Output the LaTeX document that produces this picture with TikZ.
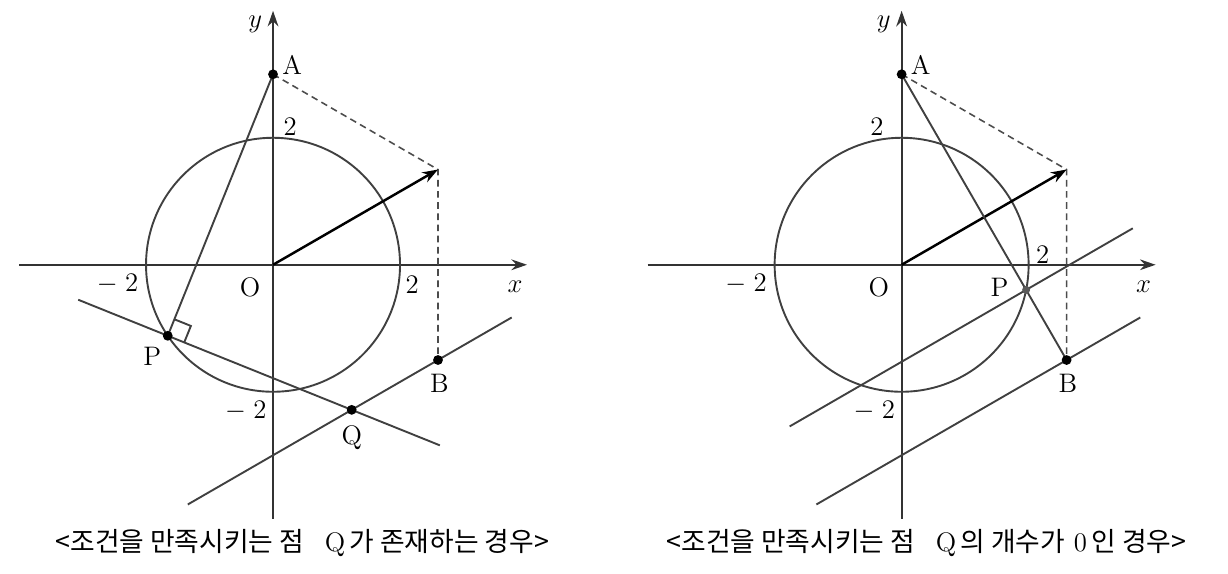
\documentclass[tikz,border=0pt]{standalone}
\usepackage{fontspec}
\newfontfamily\krfont{Noto Sans CJK KR}
\usetikzlibrary{arrows.meta,calc}
\tikzset{
	axis/.style={draw=black!80,line width=.85pt,-{Stealth[length=7pt,width=4.8pt]}},
	curve/.style={draw=black!75,line width=.85pt},
	guide/.style={draw=black!70,line width=.7pt,dash pattern=on 3pt off 2pt},
	vec/.style={draw=black,line width=1.1pt,-{Stealth[length=7pt,width=5pt]}},
	dot/.style={circle,fill=black,inner sep=0pt,minimum size=4.4pt},
	lbl/.style={font=\fontsize{12}{14}\selectfont,inner sep=0pt},
	caption/.style={font=\fontsize{12}{14}\selectfont,inner sep=0pt},
}
\begin{document}
\begin{tikzpicture}
	\useasboundingbox (-4.3,-4.87) rectangle (15.04,4.17);
	\foreach \s/\n in {0/1,9.9/2}{
		\begin{scope}[xshift=\s cm]
			\coordinate (O\n) at (0,0);
			\coordinate (A\n) at (0,3);
			\coordinate (U\n) at (30:3);
			\coordinate (B\n) at ($(U\n)+(0,-3)$);
			\coordinate (M\n) at ($(B\n)+(210:4.55)$);
			\coordinate (N\n) at ($(B\n)+(30:1.34)$);
			\coordinate (xl\n) at (-4,0);
			\coordinate (xr\n) at (4,0);
			\coordinate (yb\n) at (0,-4);
			\coordinate (yt\n) at (0,4);
			
			\draw[axis] (xl\n) -- (xr\n);
			\draw[axis] (yb\n) -- (yt\n);
			\draw[curve] (O\n) circle (2);
			\draw[curve] (M\n) -- (N\n);
			\draw[guide] (A\n) -- (U\n) -- (B\n);
			\draw[vec] (O\n) -- (U\n);
			
			\node[lbl] (ylab\n) at (-.28,3.78) {$y$};
			\node[lbl] (xlab\n) at (3.81,-.35) {$x$};
			\node[lbl] (Alab\n) at (.3,3.15) {A};
			\node[lbl] (Blab\n) at (2.62,-1.86) {B};
			\node[lbl] (Olab\n) at (-.36,-.35) {O};
			\node[lbl] (mx\n) at (-2.45,-.31) {$-\;2$};
			\node[lbl] (my\n) at (-.43,-2.3) {$-\;2$};
		\end{scope}}
	
	\coordinate (P1) at (214:2);
	\coordinate (L1) at ($(P1)!1.52cm!90:(A1)$);
	\coordinate (R1) at ($(P1)!4.62cm!-90:(A1)$);
	\coordinate (Q1) at (intersection of L1--R1 and M1--N1);
	\draw[curve] (A1) -- (P1);
	\draw[curve] (L1) -- (R1);
	\draw[curve] ($(P1)!.28cm!(A1)$) coordinate (S1) -- ($(S1)!.28cm!90:(P1)$)
		-- ($(P1)!.28cm!-90:(A1)$);
	
	\coordinate (P2) at ($(A2)!.7546!(B2)$);
	\coordinate (L2) at ($(P2)+(210:4.3)$);
	\coordinate (R2) at ($(P2)+(30:1.94)$);
	\draw[curve] (A2) -- (B2);
	\draw[curve] (L2) -- (R2);
	
	\foreach \p in {A1,B1,P1,Q1,A2,B2}
		\node[dot] (d\p) at (\p) {};
	\node[dot,fill=black!65,minimum size=3.6pt] (dP2) at (P2) {};
	
	\node[lbl] (two1) at (.27,2.17) {2};
	\node[lbl] (twox1) at (2.19,-.31) {2};
	\node[lbl] (Plab1) at (-1.9,-1.45) {P};
	\node[lbl] (Qlab1) at (1.24,-2.72) {Q};
	\node[lbl] (two2) at ($(O2)+(-.39,2.17)$) {2};
	\node[lbl] (twox2) at ($(O2)+(2.22,.16)$) {2};
	\node[lbl] (Plab2) at ($(O2)+(1.54,-.35)$) {P};
	
	\node[caption] (cap1) at (.46,-4.38)
		{{\krfont <조건을 만족시키는 점}\;\, Q\,{\krfont 가 존재하는 경우>}};
	\node[caption] (cap2) at ($(O2)+(.39,-4.38)$)
		{{\krfont <조건을 만족시키는 점}\;\, Q\,{\krfont 의 개수가} 0\,{\krfont 인 경우>}};
\end{tikzpicture}
\end{document}
